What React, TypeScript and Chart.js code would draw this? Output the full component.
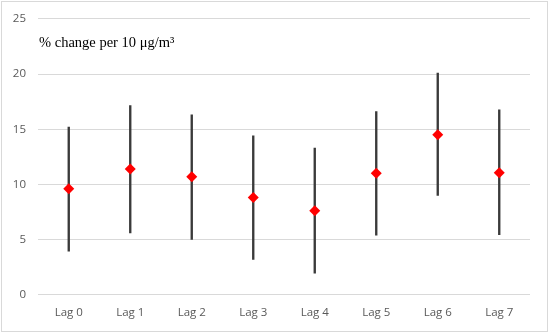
import React, { useEffect, useRef } from "react";
import { Chart, registerables } from "chart.js";

Chart.register(...registerables);

const categories = ["Lag 0", "Lag 1", "Lag 2", "Lag 3", "Lag 4", "Lag 5", "Lag 6", "Lag 7"];
const estimates = [9.6, 11.4, 10.7, 8.8, 7.6, 11.0, 14.5, 11.05];
const lower = [3.95, 5.6, 5.0, 3.2, 1.95, 5.4, 9.0, 5.45];
const upper = [15.2, 17.15, 16.3, 14.4, 13.3, 16.6, 20.1, 16.75];
const yTicks = [0, 5, 10, 15, 20, 25];
const titleText = "% change per 10 μg/m³";

export default function App() {
  const ref = useRef<HTMLCanvasElement | null>(null);

  useEffect(() => {
    if (!ref.current) return;
    const chart = new Chart(ref.current, {
      data: {
        labels: categories,
        datasets: [
          {
            type: "line",
            data: estimates,
            showLine: false,
            pointStyle: "rectRot",
            pointRadius: 5.5,
            pointBackgroundColor: "#ff0000",
            pointBorderColor: "#ff0000",
            pointBorderWidth: 0,
            order: 0,
          } as any,
          {
            type: "bar",
            data: categories.map((_, i) => [lower[i], upper[i]]),
            backgroundColor: "#3a3a3a",
            borderWidth: 0,
            barThickness: 1.7,
            grouped: false,
            order: 1,
          } as any,
        ],
      },
      options: {
        animation: false,
        responsive: false,
        maintainAspectRatio: false,
        layout: { padding: { left: 0, right: 20, top: 18, bottom: 0 } },
        plugins: {
          legend: { display: false },
          tooltip: { enabled: false },
          title: { display: false },
        },
        scales: {
          x: {
            type: "category",
            offset: true,
            grid: { display: false, drawTicks: false },
            border: { display: false },
            ticks: {
              color: "#595959",
              font: { family: "'Open Sans', sans-serif", size: 11.5 },
              padding: 11,
            },
            afterFit: (s: any) => {
              s.height = 38.3;
            },
          },
          y: {
            min: 0,
            max: 25,
            afterBuildTicks: (s: any) => {
              s.ticks = yTicks.map((v) => ({ value: v }));
            },
            grid: { color: "#d9d9d9", lineWidth: 1, drawTicks: false },
            border: { display: false },
            ticks: {
              color: "#595959",
              font: { family: "'Open Sans', sans-serif", size: 11.5 },
              padding: 12,
            },
            afterFit: (s: any) => {
              s.width = 38;
            },
          },
        },
      },
    });
    return () => chart.destroy();
  }, []);

  return (
    <div
      style={{
        position: "fixed",
        left: 0,
        top: 0,
        width: 550,
        height: 333,
        background: "#fff",
      }}
    >
      <canvas ref={ref} width={550} height={333} style={{ position: "absolute", left: 0, top: 0 }} />
      <div
        style={{
          position: "absolute",
          left: 1,
          top: 1,
          width: 545,
          height: 329,
          border: "1px solid #d9d9d9",
          pointerEvents: "none",
        }}
      />
      <div
        style={{
          position: "absolute",
          left: 39,
          top: 34,
          fontFamily: "'Liberation Serif', serif",
          fontSize: 14.5,
          color: "#000",
          whiteSpace: "nowrap",
          lineHeight: "16px",
        }}
      >
        {titleText}
      </div>
    </div>
  );
}
